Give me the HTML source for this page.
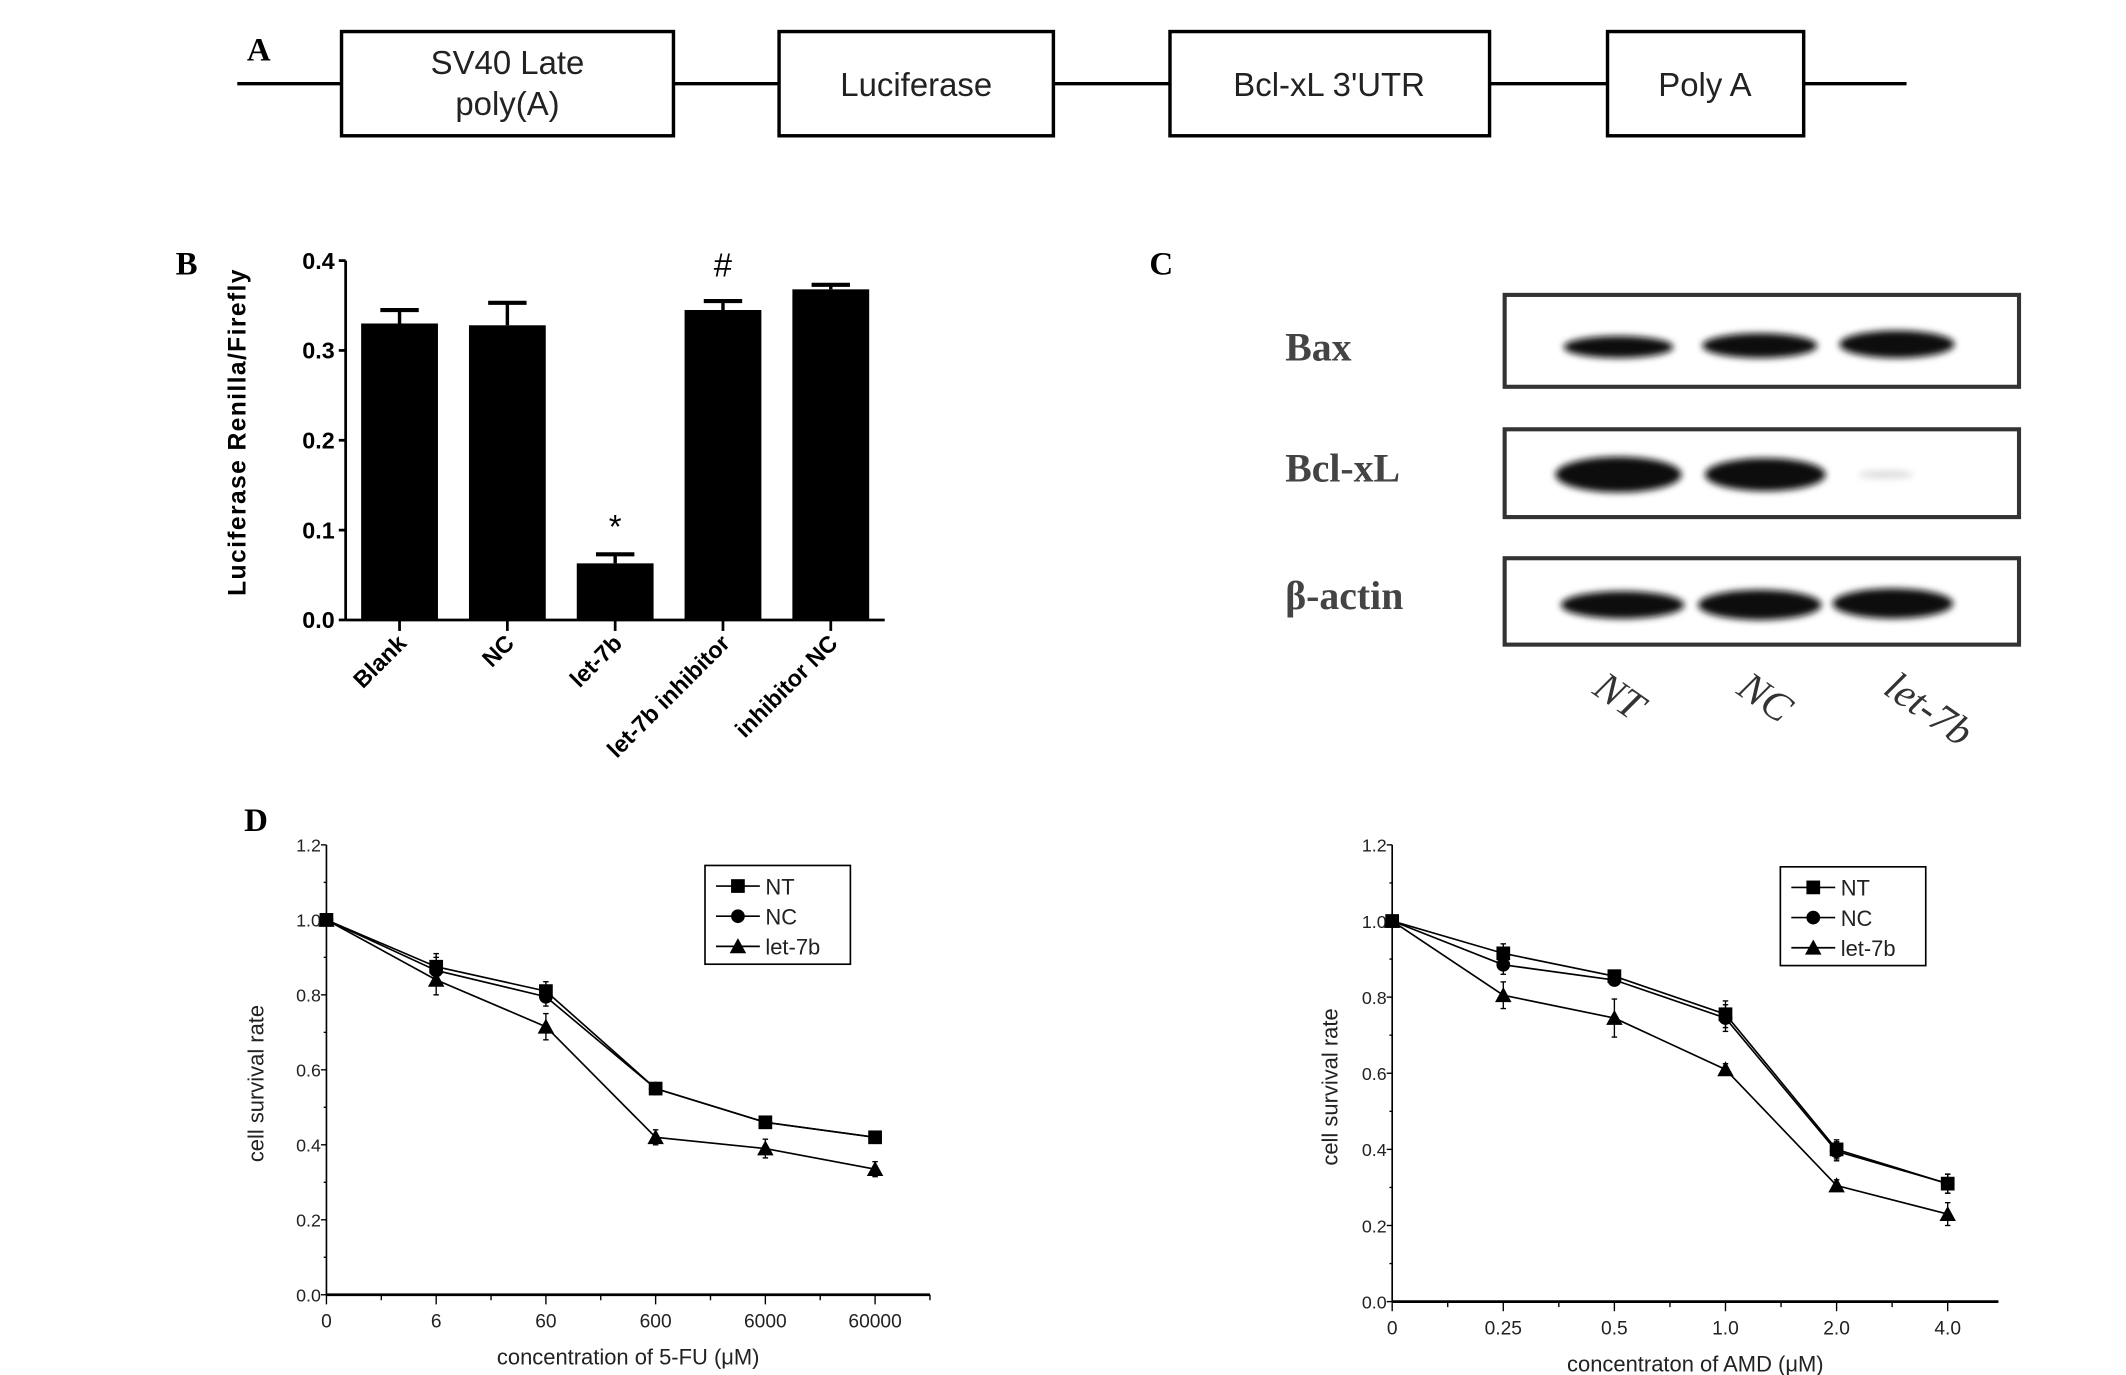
<!DOCTYPE html>
<html><head><meta charset="utf-8"><style>
html,body{margin:0;padding:0;background:#fff}
svg{display:block}
text{font-family:"Liberation Sans",sans-serif}
.serif{font-family:"Liberation Serif",serif}
</style></head><body>
<svg id="fig" width="2126" height="1375" viewBox="0 0 1550 1002.5" preserveAspectRatio="none" xmlns="http://www.w3.org/2000/svg">
<rect width="1550" height="1002.5" fill="#fff"/>
<g>
<text class="serif" x="180" y="44" font-size="24" font-weight="bold">A</text>
<line x1="173" y1="61" x2="1390" y2="61" stroke="#000" stroke-width="2.5"/>
<rect x="249" y="23" width="242" height="76" fill="#fff" stroke="#000" stroke-width="2.5"/>
<text x="370" y="54" font-size="24" text-anchor="middle" fill="#222">SV40 Late</text>
<text x="370" y="84" font-size="24" text-anchor="middle" fill="#222">poly(A)</text>
<rect x="568" y="23" width="200" height="76" fill="#fff" stroke="#000" stroke-width="2.5"/>
<text x="668" y="70" font-size="24" text-anchor="middle" fill="#222">Luciferase</text>
<rect x="853" y="23" width="233" height="76" fill="#fff" stroke="#000" stroke-width="2.5"/>
<text x="969" y="70" font-size="24" text-anchor="middle" fill="#222">Bcl-xL 3'UTR</text>
<rect x="1172" y="23" width="143" height="76" fill="#fff" stroke="#000" stroke-width="2.5"/>
<text x="1243" y="70" font-size="24" text-anchor="middle" fill="#222">Poly A</text>
</g>
<g id="pb">
<text class="serif" x="128" y="200" font-size="24" font-weight="bold">B</text>
<text transform="translate(179,315) rotate(-90)" font-size="18" font-weight="bold" text-anchor="middle" letter-spacing="1">Luciferase Renilla/Firefly</text>
</g>
<g>
<text class="serif" x="838" y="200" font-size="24" font-weight="bold">C</text>
<defs><filter id="bl" x="-20%" y="-50%" width="140%" height="200%"><feGaussianBlur stdDeviation="2.5"/></filter></defs>
<rect x="1097" y="215" width="375" height="67" fill="#fff" stroke="#333" stroke-width="3"/>
<rect x="1097" y="313" width="375" height="64" fill="#fff" stroke="#333" stroke-width="3"/>
<rect x="1097" y="407" width="375" height="63" fill="#fff" stroke="#333" stroke-width="3"/>
<g filter="url(#bl)" fill="#111">
<ellipse cx="1180" cy="253" rx="40" ry="8"/><ellipse cx="1283" cy="252" rx="42" ry="9"/><ellipse cx="1383" cy="251" rx="42" ry="10"/>
<ellipse cx="1180" cy="346" rx="46" ry="13"/><ellipse cx="1287" cy="346" rx="44" ry="12"/><ellipse cx="1375" cy="346" rx="20" ry="3" fill="#ddd"/>
<ellipse cx="1183" cy="441" rx="45" ry="10"/><ellipse cx="1283" cy="441" rx="45" ry="11"/><ellipse cx="1380" cy="440" rx="44" ry="11"/>
</g>
<text class="serif" x="937" y="263" font-size="29" font-weight="bold" fill="#444">Bax</text>
<text class="serif" x="937" y="351" font-size="29" font-weight="bold" fill="#444">Bcl-xL</text>
<text class="serif" x="937" y="444" font-size="29" font-weight="bold" fill="#444">β-actin</text>
<text class="serif" transform="translate(1160,505) rotate(35)" font-size="30" font-style="italic" fill="#333">NT</text>
<text class="serif" transform="translate(1265,505) rotate(35)" font-size="30" font-style="italic" fill="#333">NC</text>
<text class="serif" transform="translate(1372,505) rotate(35)" font-size="30" font-style="italic" fill="#333">let-7b</text>
</g>
<text class="serif" x="178" y="606" font-size="24" font-weight="bold">D</text>
<g id="pd1"></g>
<g id="pd2"></g>
</svg>
<script>
const NS='http://www.w3.org/2000/svg';
function mk(p,t,a){const e=document.createElementNS(NS,t);for(const k in a)e.setAttribute(k,a[k]);p.appendChild(e);return e;}
const bCats=['Blank','NC','let-7b','let-7b inhibitor','inhibitor NC'];
const bVals=[0.330,0.328,0.063,0.345,0.368];
const bErr=[0.015,0.025,0.010,0.010,0.005];
const bTicks=[0.0,0.1,0.2,0.3,0.4];
const bMarks=['','','*','#',''];
const d1Cats=['0','6','60','600','6000','60000'];
const d1NT=[1.0,0.875,0.81,0.55,0.46,0.42];
const d1NC=[1.0,0.865,0.795,0.55,0.46,0.42];
const d1L7=[1.0,0.84,0.715,0.42,0.39,0.335];
const d1ErrNT=[0.005,0.035,0.025,0.015,0.01,0.01];
const d1ErrL7=[0.005,0.04,0.035,0.02,0.025,0.02];
const d2Cats=['0','0.25','0.5','1.0','2.0','4.0'];
const d2NT=[1.0,0.915,0.855,0.755,0.40,0.31];
const d2NC=[1.0,0.885,0.845,0.745,0.395,0.31];
const d2L7=[1.0,0.805,0.745,0.61,0.305,0.23];
const d2ErrNT=[0.005,0.025,0.01,0.035,0.025,0.025];
const d2ErrL7=[0.005,0.035,0.05,0.015,0.015,0.03];
const dTicks=[0.0,0.2,0.4,0.6,0.8,1.0,1.2];

(function(){
 const g=document.getElementById('pb');
 const x0=252,x1=645,y0=452,yTop=190,vmax=0.4;
 const ys=v=>y0-(v/vmax)*(y0-yTop);
 const step=(x1-x0)/bCats.length;
 const xs=i=>x0+step*(i+0.5);
 mk(g,'line',{x1:x0,y1:yTop,x2:x0,y2:y0,stroke:'#000','stroke-width':2});
 mk(g,'line',{x1:x0,y1:y0,x2:x1,y2:y0,stroke:'#000','stroke-width':2});
 bTicks.forEach(t=>{
  mk(g,'line',{x1:x0-5,y1:ys(t),x2:x0,y2:ys(t),stroke:'#000','stroke-width':2});
  const tx=mk(g,'text',{x:x0-8,y:ys(t)+6,'font-size':17,'font-weight':'bold','text-anchor':'end'});tx.textContent=t.toFixed(1);
 });
 bCats.forEach((c,i)=>{
  const cx=xs(i),w=56;
  const r=mk(g,'rect',{x:cx-w/2,y:ys(bVals[i]),width:w,height:y0-ys(bVals[i]),fill:'#000'});
  
  
  mk(g,'line',{x1:cx,y1:ys(bVals[i]),x2:cx,y2:ys(bVals[i]+bErr[i]),stroke:'#000','stroke-width':2.5});
  mk(g,'line',{x1:cx-14,y1:ys(bVals[i]+bErr[i]),x2:cx+14,y2:ys(bVals[i]+bErr[i]),stroke:'#000','stroke-width':3});
  mk(g,'line',{x1:cx,y1:y0,x2:cx,y2:y0+8,stroke:'#000','stroke-width':2});
  const t=mk(g,'text',{transform:`translate(${cx+6},${y0+18}) rotate(-45)`,'font-size':17,'font-weight':'bold','text-anchor':'end'});t.textContent=c;
  if(bMarks[i]){const m=mk(g,'text',{x:cx,y:ys(bVals[i]+bErr[i])-(bMarks[i]=='#'?18:12),'font-size':24,'text-anchor':'middle'});m.textContent=bMarks[i];}
 });
})();

function drawD(id,x0,x1,y0,yTop,tickStep,cats,nt,nc,l7,eNT,eL7,legX,legY,xtitle,ylabX){
 const g=document.getElementById(id);
 const ys=v=>y0-(v/1.2)*(y0-yTop);
 const xs=i=>x0+tickStep*i;
 mk(g,'line',{x1:x0,y1:yTop,x2:x0,y2:y0,stroke:'#000','stroke-width':1.2});
 mk(g,'line',{x1:x0,y1:y0,x2:x1,y2:y0,stroke:'#000','stroke-width':2});
 dTicks.forEach(t=>{
  mk(g,'line',{x1:x0-4,y1:ys(t),x2:x0,y2:ys(t),stroke:'#000'});
  const tx=mk(g,'text',{x:x0-4,y:ys(t)+5,'font-size':13,'text-anchor':'end',fill:'#222'});tx.textContent=t.toFixed(1);
  if(t<1.2) mk(g,'line',{x1:x0-2,y1:ys(t+0.1),x2:x0,y2:ys(t+0.1),stroke:'#000'});
 });
 for(let k=0;k<=11;k++){const x=x0+tickStep/2*k;if(x<=x1) mk(g,'line',{x1:x,y1:y0,x2:x,y2:y0+(k%2?4:7),stroke:'#000'});}
 cats.forEach((c,i)=>{const t=mk(g,'text',{x:xs(i),y:y0+24,'font-size':14,'text-anchor':'middle',fill:'#222'});t.textContent=c;});
 const tt=mk(g,'text',{x:(x0+x1)/2,y:y0+51,'font-size':16,'text-anchor':'middle',fill:'#222'});tt.textContent=xtitle;
 const yl=mk(g,'text',{transform:`translate(${ylabX},${(y0+yTop)/2+10}) rotate(-90)`,'font-size':16,'text-anchor':'middle',fill:'#222'});yl.textContent='cell survival rate';
 const series=[[nt,'sq','NT',eNT],[nc,'ci','NC',eNT],[l7,'tr','let-7b',eL7]];
 function marker(cx,cy,type){
  if(type=='sq') return mk(g,'rect',{x:cx-5,y:cy-5,width:10,height:10,fill:'#000'});
  if(type=='ci') return mk(g,'circle',{cx:cx,cy:cy,r:5,fill:'#000'});
  return mk(g,'polygon',{points:`${cx},${cy-6} ${cx-6},${cy+5} ${cx+6},${cy+5}`,fill:'#000'});
 }
 series.forEach(([vals,type,name,err])=>{
  const pts=vals.map((v,i)=>xs(i)+','+ys(v)).join(' ');
  const pl=mk(g,'polyline',{points:pts,fill:'none',stroke:'#000','stroke-width':1.2});
  
  
  vals.forEach((v,i)=>{
   mk(g,'line',{x1:xs(i),y1:ys(v-err[i]),x2:xs(i),y2:ys(v+err[i]),stroke:'#000'});
   mk(g,'line',{x1:xs(i)-2,y1:ys(v+err[i]),x2:xs(i)+2,y2:ys(v+err[i]),stroke:'#000'});
   mk(g,'line',{x1:xs(i)-2,y1:ys(v-err[i]),x2:xs(i)+2,y2:ys(v-err[i]),stroke:'#000'});
   const m=marker(xs(i),ys(v),type);
   
   
  });
 });
 const lg=mk(g,'g',{});
 
 
 mk(lg,'rect',{x:legX,y:legY,width:106,height:72,fill:'#fff',stroke:'#000','stroke-width':1.2});
 series.forEach(([v,type,name],k)=>{
  const cy=legY+15+k*22;
  mk(lg,'line',{x1:legX+8,y1:cy,x2:legX+40,y2:cy,stroke:'#000','stroke-width':1.2});
  marker(legX+24,cy,type);
  const t=mk(lg,'text',{x:legX+44,y:cy+6,'font-size':16,fill:'#222'});t.textContent=name;
 });
}
drawD('pd1',238,678,944,616,80,d1Cats,d1NT,d1NC,d1L7,d1ErrNT,d1ErrL7,514,631,'concentration of 5-FU (μM)',192);
drawD('pd2',1015,1457,949,616,81,d2Cats,d2NT,d2NC,d2L7,d2ErrNT,d2ErrL7,1298,632,'concentraton of AMD (μM)',975);
</script>
</body></html>
